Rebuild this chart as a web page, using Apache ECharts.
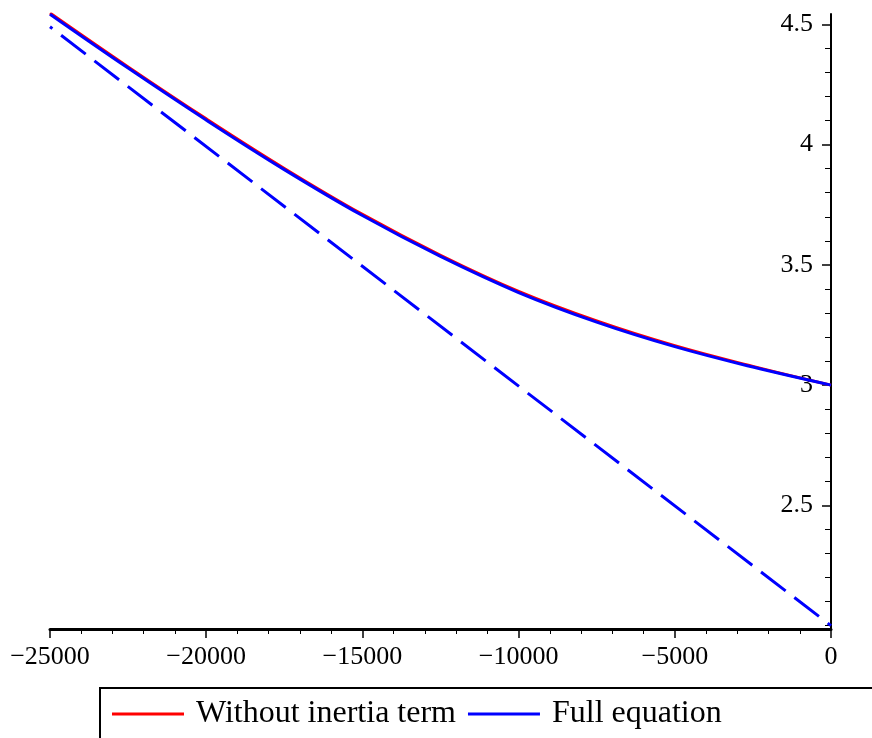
<!DOCTYPE html>
<html>
<head>
<meta charset="utf-8">
<title>inertia term</title>
<script src="https://cdn.jsdelivr.net/npm/echarts@6/dist/echarts.min.js"></script>
<style>
    html, body { margin: 0; padding: 0; background: #fff; }
    #chart_inertia { width: 872px; height: 738px; }
</style>
</head>
<body>
<div id="chart_inertia"></div>
<script>
// values
var xValues = [-25000, -22500, -20000, -17500, -15000, -12500, -10000, -7500, -5000, -2500, 0];
var fullEquation = [4.542, 4.318, 4.102, 3.896, 3.705, 3.535, 3.385, 3.262, 3.160, 3.075, 3.0];
var withoutInertia = [4.547, 4.323, 4.107, 3.901, 3.710, 3.540, 3.390, 3.267, 3.164, 3.078, 3.0];
// straight dashed line
var dashX = [-25000, 0];
var dashY = [4.49, 2.0];
// y axis ticks
var yLabelValues = [2.5, 3, 3.5, 4, 4.5];
var yMinorValues = [2.0, 2.1, 2.2, 2.3, 2.4, 2.6, 2.7, 2.8, 2.9, 3.1, 3.2, 3.3, 3.4, 3.6, 3.7, 3.8, 3.9, 4.1, 4.2, 4.3, 4.4];
var legendNames = ['Without inertia term', 'Full equation'];

var serif = '"Liberation Serif", "Times New Roman", serif';

function pairs(xs, ys) {
    return xs.map(function (x, i) { return [x, ys[i]]; });
}

var myChart = echarts.init(document.getElementById('chart_inertia'));

var option = {
    animation: false,
    backgroundColor: '#fff',
    grid: { left: 50, right: 41, top: 14, bottom: 109, containLabel: false, outerBoundsMode: 'none' },
    xAxis: {
        type: 'value',
        min: -25000,
        max: 0,
        interval: 5000,
        axisLine: { onZero: false, lineStyle: { color: '#000', width: 3 } },
        axisTick: { length: 9, lineStyle: { color: '#000', width: 1.5 } },
        minorTick: { show: true, splitNumber: 5, length: 5, lineStyle: { color: '#000', width: 1 } },
        splitLine: { show: false },
        axisLabel: {
            margin: 15,
            color: '#000',
            fontFamily: serif,
            fontSize: 26,
            formatter: function (v) { return String(v).replace('-', '\u2212'); }
        }
    },
    yAxis: [
        {
            type: 'value',
            position: 'right',
            min: 1.986,
            max: 4.543,
            axisLine: { show: true, onZero: false, lineStyle: { color: '#000', width: 2 } },
            axisTick: { inside: true, length: 9, customValues: yLabelValues, lineStyle: { color: '#000', width: 1.5 } },
            splitLine: { show: false },
            axisLabel: {
                inside: true,
                margin: 18,
                customValues: yLabelValues,
                color: '#000',
                fontFamily: serif,
                fontSize: 26
            }
        },
        {
            // minor ticks only
            type: 'value',
            position: 'right',
            min: 1.986,
            max: 4.543,
            axisLine: { show: false },
            axisTick: { inside: true, length: 6, customValues: yMinorValues, lineStyle: { color: '#000', width: 1 } },
            splitLine: { show: false },
            axisLabel: { show: false }
        }
    ],
    legend: {
        data: legendNames,
        left: 112,
        top: 694,
        padding: 0,
        itemGap: 12,
        itemWidth: 72,
        itemHeight: 3,
        icon: 'rect',
        selectedMode: false,
        textStyle: { color: '#000', fontFamily: serif, fontSize: 32, lineHeight: 32, padding: [8, 0, 0, 7] }
    },
    graphic: [
        {
            type: 'rect',
            z: 1,
            shape: { x: 100, y: 688, width: 900, height: 100 },
            style: { fill: '#fff', stroke: '#000', lineWidth: 2 }
        }
    ],
    series: [
        {
            name: legendNames[0],
            type: 'line',
            data: pairs(xValues, withoutInertia),
            smooth: 0.4,
            showSymbol: false,
            color: '#ff0000',
            lineStyle: { color: '#ff0000', width: 3 },
            z: 2
        },
        {
            name: legendNames[1],
            type: 'line',
            data: pairs(xValues, fullEquation),
            smooth: 0.4,
            showSymbol: false,
            color: '#0000ff',
            lineStyle: { color: '#0000ff', width: 3 },
            z: 3
        },
        {
            name: 'dashed',
            type: 'line',
            data: pairs(dashX, dashY),
            showSymbol: false,
            color: '#0000ff',
            lineStyle: { color: '#0000ff', width: 3, type: [31, 11], dashOffset: 28, cap: 'butt' },
            z: 3
        }
    ]
};

myChart.setOption(option);
</script>
</body>
</html>
